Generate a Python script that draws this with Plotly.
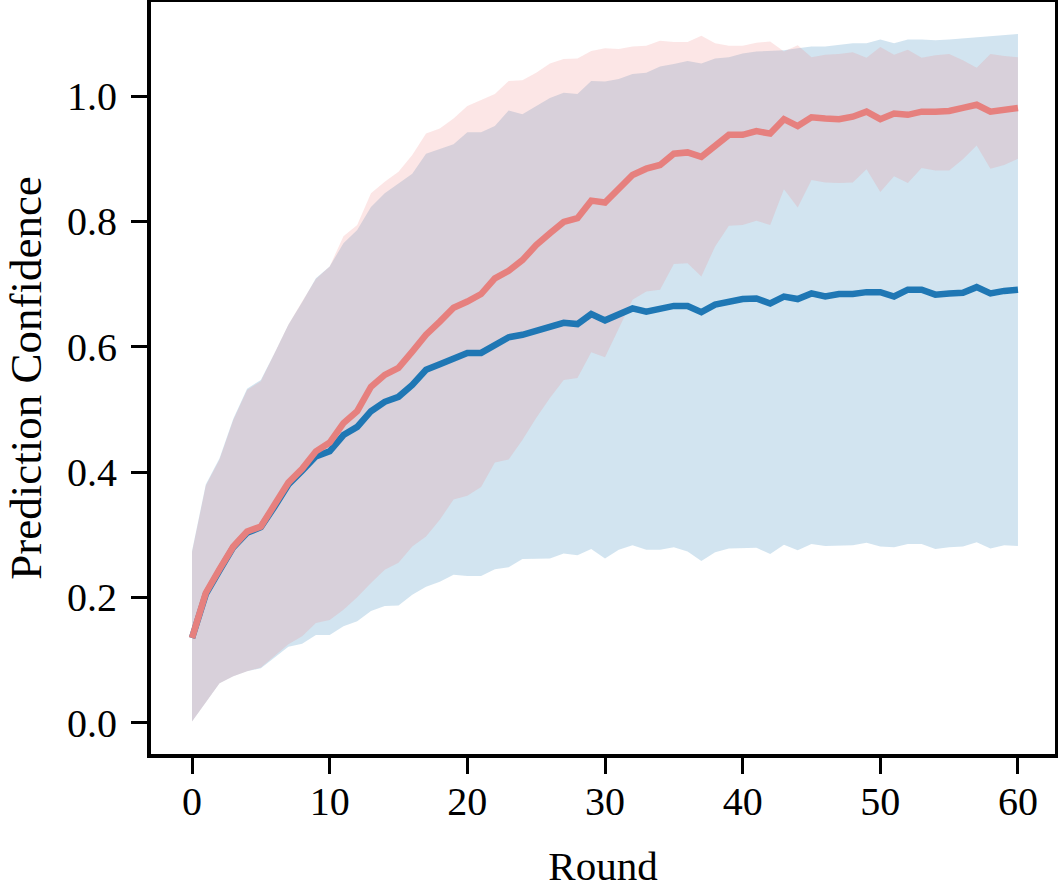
import plotly.graph_objects as go

rounds = list(range(61))

blue_mean = [0.135, 0.205, 0.243, 0.280, 0.303, 0.312, 0.345, 0.380, 0.402, 0.425,
             0.433, 0.459, 0.472, 0.497, 0.512, 0.520, 0.539, 0.563, 0.572, 0.582,
             0.590, 0.590, 0.603, 0.615, 0.619, 0.625, 0.631, 0.638, 0.636, 0.652,
             0.642, 0.651, 0.661, 0.656, 0.660, 0.665, 0.665, 0.655, 0.667, 0.672,
             0.676, 0.677, 0.669, 0.680, 0.676, 0.685, 0.680, 0.684, 0.684, 0.687,
             0.687, 0.680, 0.691, 0.691, 0.683, 0.685, 0.686, 0.695, 0.685, 0.689,
             0.691]
blue_upper = [0.274, 0.380, 0.422, 0.485, 0.533, 0.547, 0.590, 0.635, 0.671, 0.709,
              0.728, 0.765, 0.786, 0.823, 0.845, 0.861, 0.876, 0.908, 0.915, 0.923,
              0.942, 0.942, 0.952, 0.977, 0.971, 0.984, 0.997, 1.005, 1.003, 1.024,
              1.023, 1.027, 1.035, 1.037, 1.047, 1.051, 1.056, 1.052, 1.060, 1.062,
              1.068, 1.071, 1.072, 1.073, 1.076, 1.079, 1.079, 1.082, 1.084, 1.084,
              1.090, 1.084, 1.090, 1.090, 1.089, 1.090, 1.092, 1.094, 1.096, 1.097,
              1.099]
blue_lower = [0.002, 0.032, 0.063, 0.074, 0.082, 0.087, 0.104, 0.121, 0.126, 0.140,
              0.140, 0.154, 0.162, 0.178, 0.186, 0.187, 0.204, 0.217, 0.225, 0.236,
              0.234, 0.234, 0.245, 0.248, 0.261, 0.262, 0.262, 0.270, 0.267, 0.277,
              0.262, 0.276, 0.283, 0.276, 0.276, 0.280, 0.273, 0.258, 0.272, 0.278,
              0.279, 0.279, 0.269, 0.284, 0.275, 0.285, 0.282, 0.283, 0.283, 0.287,
              0.281, 0.280, 0.285, 0.285, 0.277, 0.280, 0.281, 0.288, 0.278, 0.283,
              0.282]

red_mean = [0.135, 0.207, 0.245, 0.281, 0.305, 0.313, 0.348, 0.383, 0.405, 0.433,
            0.447, 0.478, 0.497, 0.536, 0.555, 0.566, 0.592, 0.619, 0.640, 0.662,
            0.672, 0.684, 0.709, 0.721, 0.738, 0.762, 0.781, 0.799, 0.805, 0.833,
            0.830, 0.853, 0.874, 0.884, 0.890, 0.908, 0.910, 0.903, 0.922, 0.938,
            0.938, 0.944, 0.940, 0.963, 0.952, 0.966, 0.964, 0.963, 0.967, 0.975,
            0.963, 0.972, 0.970, 0.975, 0.975, 0.976, 0.981, 0.986, 0.975, 0.978,
            0.981]
red_upper = [0.272, 0.378, 0.420, 0.483, 0.531, 0.545, 0.590, 0.635, 0.672, 0.708,
             0.728, 0.776, 0.794, 0.845, 0.863, 0.879, 0.906, 0.940, 0.948, 0.964,
             0.984, 0.993, 1.003, 1.024, 1.025, 1.037, 1.052, 1.059, 1.060, 1.072,
             1.076, 1.075, 1.079, 1.080, 1.088, 1.086, 1.086, 1.096, 1.084, 1.080,
             1.080, 1.085, 1.087, 1.071, 1.081, 1.062, 1.066, 1.067, 1.070, 1.061,
             1.078, 1.066, 1.074, 1.061, 1.065, 1.067, 1.057, 1.045, 1.067, 1.064,
             1.062]
red_lower = [0.002, 0.032, 0.063, 0.074, 0.082, 0.088, 0.106, 0.125, 0.138, 0.159,
             0.164, 0.180, 0.200, 0.223, 0.244, 0.255, 0.281, 0.297, 0.324, 0.356,
             0.362, 0.376, 0.415, 0.420, 0.451, 0.486, 0.518, 0.547, 0.550, 0.591,
             0.583, 0.629, 0.675, 0.688, 0.691, 0.732, 0.733, 0.712, 0.760, 0.793,
             0.794, 0.801, 0.794, 0.851, 0.822, 0.866, 0.862, 0.861, 0.862, 0.883,
             0.847, 0.872, 0.861, 0.885, 0.881, 0.881, 0.899, 0.921, 0.884, 0.890,
             0.900]

x_ticks = [0, 10, 20, 30, 40, 50, 60]
y_ticks = [0.0, 0.2, 0.4, 0.6, 0.8, 1.0]
y_tick_text = ["0.0", "0.2", "0.4", "0.6", "0.8", "1.0"]

BLUE = "#1f77b4"
RED = "#e6807e"
BLUE_FILL = "rgba(31,119,180,0.2)"
RED_FILL = "rgba(240,128,128,0.2)"

fig = go.Figure()
fig.add_trace(go.Scatter(x=rounds, y=blue_lower, mode="lines", line=dict(width=0, color=BLUE_FILL),
                         showlegend=False, hoverinfo="skip"))
fig.add_trace(go.Scatter(x=rounds, y=blue_upper, mode="lines", line=dict(width=0, color=BLUE_FILL),
                         fill="tonexty", fillcolor=BLUE_FILL, showlegend=False, hoverinfo="skip"))
fig.add_trace(go.Scatter(x=rounds, y=red_lower, mode="lines", line=dict(width=0, color=RED_FILL),
                         showlegend=False, hoverinfo="skip"))
fig.add_trace(go.Scatter(x=rounds, y=red_upper, mode="lines", line=dict(width=0, color=RED_FILL),
                         fill="tonexty", fillcolor=RED_FILL, showlegend=False, hoverinfo="skip"))
fig.add_trace(go.Scatter(x=rounds, y=blue_mean, mode="lines", line=dict(width=6.5, color=BLUE),
                         showlegend=False))
fig.add_trace(go.Scatter(x=rounds, y=red_mean, mode="lines", line=dict(width=6.5, color=RED),
                         showlegend=False))

FONT = "Liberation Serif"
axis_common = dict(showline=True, mirror=True, linewidth=4, linecolor="black",
                   ticks="outside", ticklen=16, tickwidth=3, tickcolor="black",
                   showgrid=False, zeroline=False, automargin=False,
                   tickfont=dict(family=FONT, size=40, color="black"))

fig.update_layout(
    width=1058, height=889,
    margin=dict(l=151, r=3, t=2, b=135),
    plot_bgcolor="white", paper_bgcolor="white",
    xaxis=dict(range=[-2.98, 62.69], tickvals=x_ticks, ticklabelstandoff=-7,
               title=dict(text="Round", font=dict(family=FONT, size=41, color="black"), standoff=41),
               **axis_common),
    yaxis=dict(range=[-0.05, 1.15], tickvals=y_ticks, ticktext=y_tick_text, ticklabelstandoff=6,
               title=dict(text="Prediction Confidence", font=dict(family=FONT, size=45, color="black"),
                          standoff=12),
               **axis_common),
)

fig.write_html("out.html")
